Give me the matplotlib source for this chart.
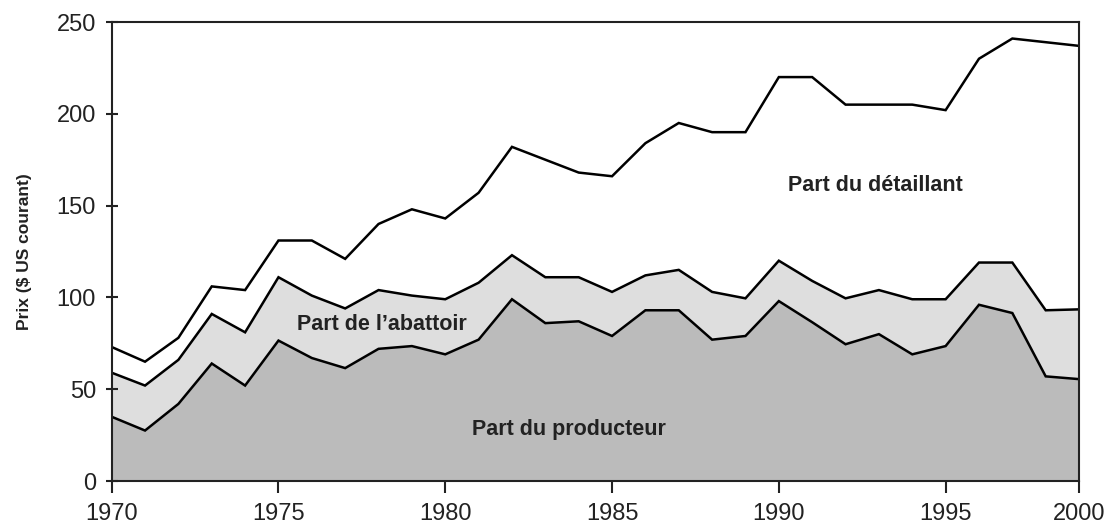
#!/usr/bin/env python

import numpy as np
import matplotlib
matplotlib.use('Agg')
import matplotlib.pyplot as plt

# price split per year, $ US courant (cumulative levels)
years = np.arange(1970, 2000)
detaillant = [73, 65, 78, 106, 104, 131, 131, 121, 140, 148, 143, 157, 182, 175,
              168, 166, 184, 195, 190, 190, 220, 220, 205, 205, 205, 202, 230, 241,
              239, 237]
abattoir = [59, 52, 66, 91, 81, 111, 101, 94, 104, 101, 99, 108, 123, 111,
            111, 103, 112, 115, 103, 99.5, 120, 109, 99.5, 104, 99, 99, 119, 119,
            93, 93.5]
producteur = [35, 27.5, 42, 64, 52, 76.5, 67, 61.5, 72, 73.5, 69, 77, 99, 86,
              87, 79, 93, 93, 77, 79, 98, 86.5, 74.5, 80, 69, 73.5, 96, 91.5,
              57, 55.5]

tick_pos = [1970, 1975, 1980, 1985, 1990, 1995, 1999]
tick_lab = ['1970', '1975', '1980', '1985', '1990', '1995', '2000']

plt.rcParams['font.family'] = ['Liberation Sans', 'DejaVu Sans']

fig = plt.figure(figsize=(11.19, 5.24), dpi=100)
ax = fig.add_axes([0.0998, 0.082, 0.8645, 0.876])

ax.fill_between(years, 0, producteur, color='#bbbbbb', lw=0)
ax.fill_between(years, producteur, abattoir, color='#dedede', lw=0)
for s in (producteur, abattoir, detaillant):
    ax.plot(years, s, color='black', lw=1.8, solid_joinstyle='miter')

ax.text(1992.9, 161, 'Part du détaillant', ha='center', va='center',
        fontsize=15.5, fontweight='bold', color='#222222')
ax.text(1978.1, 85, 'Part de l\u2019abattoir', ha='center', va='center',
        fontsize=15.5, fontweight='bold', color='#222222')
ax.text(1983.7, 28, 'Part du producteur', ha='center', va='center',
        fontsize=15.5, fontweight='bold', color='#222222')

ax.set_xlim(1970, 1999)
ax.set_ylim(0, 250)
ax.set_xticks(tick_pos)
ax.set_xticklabels(tick_lab)
ax.set_yticks(np.arange(0, 251, 50))
ax.tick_params(axis='x', direction='out', length=8.5, width=1.5,
               labelsize=17, pad=7, colors='#222222')
ax.tick_params(axis='y', direction='inout', length=8.5, width=1.5,
               labelsize=17, pad=7, colors='#222222')
for sp in ax.spines.values():
    sp.set_linewidth(1.5)
    sp.set_color('#222222')

ax.set_ylabel('Prix ($ US courant)', fontsize=12.5, fontweight='bold',
              color='#222222', labelpad=18)

fig.savefig('out.png', dpi=100)
